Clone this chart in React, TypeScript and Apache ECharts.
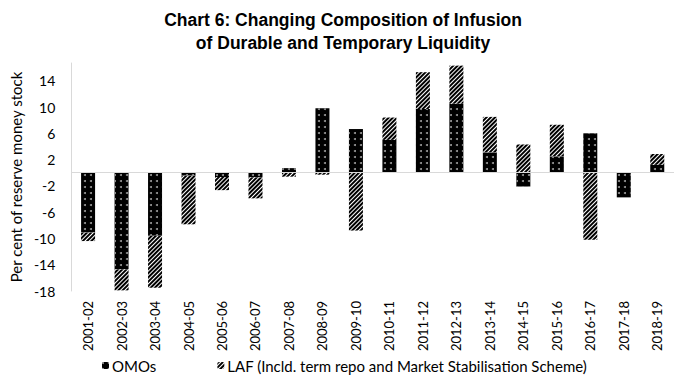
import React, { useEffect, useRef } from "react";
import * as echarts from "echarts";

const categories = [
  "2001-02", "2002-03", "2003-04", "2004-05", "2005-06", "2006-07",
  "2007-08", "2008-09", "2009-10", "2010-11", "2011-12", "2012-13",
  "2013-14", "2014-15", "2015-16", "2016-17", "2017-18", "2018-19",
];
const omoValues = [
  -9.1, -14.7, -9.6, -0.45, -0.65, -0.7, 0.7, 9.8, 6.65, 5.0, 9.7, 10.5,
  3.1, -2.1, 2.5, 6.0, -3.75, 1.2,
];
const lafValues = [
  -1.3, -3.2, -7.9, -7.4, -2.0, -3.2, -0.6, -0.3, -8.8, 3.4, 5.6, 5.8,
  5.4, 4.3, 4.8, -10.2, 0, 1.65,
];
const seriesNames = ["OMOs", "LAF (Incld. term repo and Market Stabilisation Scheme)"];
const titleLines = ["Chart 6: Changing Composition of Infusion", "of Durable and Temporary Liquidity"];
const yAxisTitle = "Per cent of reserve money stock";

const FONT = "Lato, 'Noto Sans', sans-serif";

export default function App() {
  const ref = useRef<HTMLDivElement>(null);
  useEffect(() => {
    if (!ref.current) return;
    const chart = echarts.init(ref.current, null, { renderer: "svg" });
    const omoDecal = {
      symbol: "circle",
      symbolSize: 1,
      color: "#9a9a9a",
      backgroundColor: "#000",
      dashArrayX: [[1.2, 3.8]],
      dashArrayY: [1.2, 3.8],
      rotation: 0,
    };
    const lafDecal = {
      symbol: "rect",
      symbolSize: 1,
      color: "#000",
      backgroundColor: "#fff",
      dashArrayX: [1, 0],
      dashArrayY: [1.1, 1.0],
      rotation: -Math.PI / 4,
    };
    chart.setOption({
      animation: false,
      backgroundColor: "#fff",
      title: {
        text: titleLines.join("\n"),
        left: 338,
        top: 4,
        textAlign: "center",
        textStyle: {
          fontFamily: "'Liberation Sans', Arial, sans-serif",
          fontWeight: "bold",
          fontSize: 17.5,
          lineHeight: 22.5,
          color: "#000",
        },
      },
      legend: {
        left: 97,
        top: 353,
        itemWidth: 7,
        itemHeight: 7,
        itemGap: 61,
        itemStyle: { borderWidth: 0 },
        textStyle: { fontFamily: FONT, fontSize: 15, color: "#000", padding: [0, 0, 0, -2] },
        data: seriesNames,
      },
      grid: { left: 69, top: 63, width: 608, height: 228, containLabel: false },
      xAxis: {
        type: "category",
        data: categories,
        position: "bottom",
        axisLine: { show: false, onZero: false },
        axisTick: { show: false },
        axisLabel: {
          rotate: 90,
          margin: 10,
          fontFamily: FONT,
          fontSize: 13,
          color: "#000",
        },
      },
      yAxis: {
        type: "value",
        min: -18,
        max: 16.7,
        interval: 4,
        name: yAxisTitle,
        nameLocation: "middle",
        nameGap: 42,
        nameTextStyle: { fontFamily: FONT, fontSize: 15, color: "#000" },
        axisLine: { show: true, lineStyle: { color: "#d9d9d9", width: 1 } },
        axisTick: { show: false },
        splitLine: { show: false },
        axisLabel: {
          showMaxLabel: false,
          margin: 16,
          fontFamily: FONT,
          fontSize: 14,
          color: "#000",
        },
      },
      series: [
        {
          name: seriesNames[0],
          type: "bar",
          stack: "total",
          barWidth: 14,
          data: omoValues,
          itemStyle: { color: "#000", decal: omoDecal },
          markLine: {
            silent: true,
            symbol: "none",
            label: { show: false },
            lineStyle: { color: "#d9d9d9", width: 1, type: "solid" },
            data: [{ yAxis: 0 }],
          },
          z: 3,
        },
        {
          name: seriesNames[1],
          type: "bar",
          stack: "total",
          barWidth: 14,
          data: lafValues,
          itemStyle: { color: "#fff", decal: lafDecal },
          z: 3,
        },
      ],
    });
    return () => chart.dispose();
  }, []);
  return (
    <div
      ref={ref}
      style={{ position: "fixed", left: 0, top: 0, width: 674, height: 377 }}
    />
  );
}
